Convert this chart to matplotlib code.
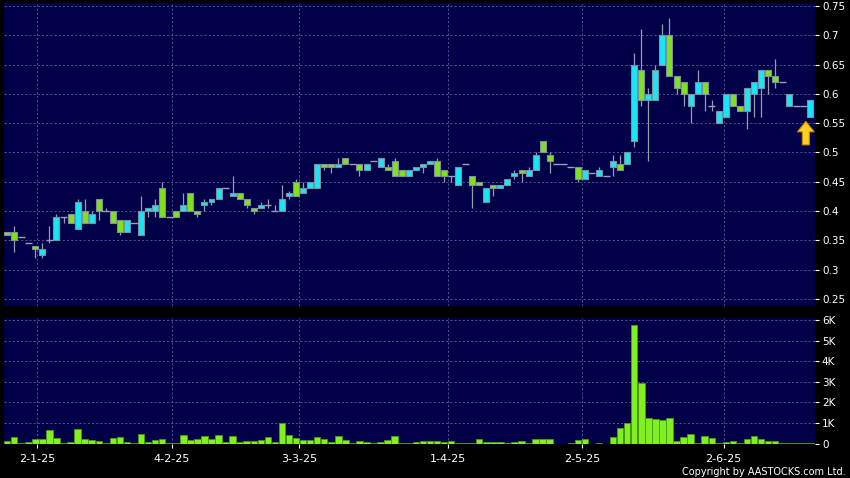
import matplotlib
matplotlib.use("Agg")
import matplotlib.pyplot as plt
import numpy as np

# daily candles (HKD)
opens = [.365, .365, .355, .345, .34, .325, .35, .35, .39, .395,
         .37, .40, .38, .42, .40, .40, .385, .365, .38, .36,
         .40, .40, .44, .39, .40, .40, .43, .40, .41, .415,
         .42, .44, .425, .43, .42, .405, .405, .41, .40, .40,
         .425, .45, .43, .44, .44, .48, .48, .475, .49, .48,
         .48, .47, .485, .475, .475, .485, .47, .46, .47, .475,
         .48, .485, .47, .46, .445, .48, .46, .45, .415, .445,
         .44, .445, .46, .47, .46, .47, .52, .495, .48, .48,
         .475, .475, .455, .465, .46, .46, .475, .48, .48, .52,
         .64, .59, .59, .65, .70, .63, .62, .58, .60, .62,
         .58, .55, .56, .60, .58, .57, .60, .61, .64, .63,
         .62, .58, .58, .58, .56]
closes = [.36, .35, .355, .345, .335, .335, .35, .39, .39, .38,
          .415, .38, .395, .40, .40, .38, .365, .385, .38, .40,
          .405, .41, .39, .39, .39, .41, .40, .395, .415, .42,
          .44, .44, .43, .42, .41, .40, .41, .41, .40, .42,
          .43, .425, .44, .45, .48, .475, .475, .48, .48, .48,
          .47, .48, .485, .49, .47, .46, .46, .47, .475, .48,
          .485, .46, .46, .46, .475, .48, .445, .445, .44, .44,
          .445, .455, .465, .465, .47, .495, .50, .485, .48, .48,
          .475, .455, .47, .465, .47, .46, .485, .47, .50, .65,
          .59, .60, .64, .70, .63, .61, .60, .60, .62, .60,
          .58, .57, .60, .58, .57, .61, .62, .64, .63, .62,
          .62, .60, .58, .58, .59]
highs = [.365, .375, .355, .345, .34, .345, .375, .395, .39, .395,
         .42, .42, .40, .42, .405, .40, .385, .385, .38, .425,
         .405, .42, .45, .39, .40, .43, .43, .40, .42, .42,
         .44, .44, .46, .43, .42, .405, .415, .42, .41, .445,
         .435, .455, .45, .45, .48, .48, .48, .49, .49, .48,
         .48, .48, .485, .49, .48, .49, .47, .47, .475, .48,
         .485, .49, .47, .46, .475, .48, .46, .45, .44, .445,
         .445, .455, .47, .47, .475, .50, .52, .50, .48, .48,
         .475, .475, .47, .465, .475, .46, .495, .495, .50, .67,
         .71, .61, .65, .72, .73, .63, .62, .60, .64, .62,
         .59, .57, .60, .60, .58, .61, .62, .64, .64, .66,
         .62, .60, .58, .58, .59]
lows = [.36, .33, .355, .345, .32, .32, .345, .35, .38, .38,
        .37, .38, .38, .385, .40, .38, .36, .365, .38, .36,
        .39, .39, .39, .39, .39, .40, .40, .39, .40, .41,
        .42, .44, .425, .42, .405, .395, .405, .405, .40, .40,
        .42, .425, .43, .44, .44, .47, .465, .475, .48, .48,
        .46, .47, .485, .475, .47, .46, .46, .46, .47, .465,
        .48, .46, .45, .45, .445, .48, .405, .445, .415, .425,
        .44, .445, .455, .45, .46, .47, .50, .465, .48, .48,
        .475, .45, .455, .465, .46, .46, .46, .47, .48, .51,
        .58, .485, .59, .65, .63, .60, .58, .55, .60, .57,
        .57, .55, .56, .58, .57, .54, .56, .56, .60, .61,
        .62, .58, .58, .58, .56]
# volume in thousands of shares
volume_k = [.15, .30, .03, .06, .20, .23, .68, .28, .03, .08,
            .73, .20, .16, .13, .05, .26, .32, .06, .02, .47,
            .10, .16, .21, .02, .05, .40, .16, .23, .39, .23,
            .40, .06, .37, .08, .15, .11, .16, .32, .06, 1.02,
            .40, .26, .18, .16, .30, .20, .06, .36, .16, .01,
            .11, .06, .05, .06, .18, .36, .03, .03, .06, .11,
            .11, .11, .08, .15, .05, .02, .02, .21, .08, .06,
            .06, .02, .06, .15, .01, .20, .20, .20, 0, 0,
            .01, .18, .20, 0, .04, 0, .30, .75, 1.02, 5.74,
            2.92, 1.23, 1.18, 1.15, 1.23, .15, .32, .49, .03, .36,
            .29, .01, .10, .15, .02, .21, .39, .21, .11, .11,
            .05, .01, .05, .01, .01]

date_labels = ["2-1-25", "4-2-25", "3-3-25", "1-4-25", "2-5-25", "2-6-25"]
price_ticks = [0.25, 0.3, 0.35, 0.4, 0.45, 0.5, 0.55, 0.6, 0.65, 0.7, 0.75]
price_tick_labels = ["0.25", "0.3", "0.35", "0.4", "0.45", "0.5",
                     "0.55", "0.6", "0.65", "0.7", "0.75"]
vol_ticks = [0, 1, 2, 3, 4, 5, 6]
vol_tick_labels = ["0", "1K", "2K", "3K", "4K", "5K", "6K"]

# where the date labels sit (in trading-day index units)
date_pos = [4.3, 23.4, 41.4, 62.6, 81.6, 101.7]

BG = "#000048"
UP = "#19E6F5"
DOWN = "#7FE21C"
GRID = "#5f5f9a"

o = np.array(opens)
c = np.array(closes)
h = np.array(highs)
l = np.array(lows)
x = np.arange(len(o))

fig = plt.figure(figsize=(8.5, 4.78), dpi=100, facecolor="black")
ax = fig.add_axes([0.0047, 0.3598, 0.9541, 0.6339], facecolor=BG)
axv = fig.add_axes([0.0047, 0.0711, 0.9541, 0.2636], facecolor=BG)

for a in (ax, axv):
    for s in a.spines.values():
        s.set_visible(False)
    a.set_xlim(-0.45, len(o) - 0.35)
    for p in date_pos:
        a.axvline(p, color=GRID, lw=0.6, ls=(0, (2.5, 2.5)), zorder=0)

# price panel
for p in price_ticks:
    ax.axhline(p, color=GRID, lw=0.6, ls=(0, (2.5, 2.5)), zorder=0)

ax.vlines(x, l, h, color="#9a9aaa", lw=0.9, zorder=1)
up = c > o
down = c < o
flat = c == o
ax.bar(x[up], (c - o)[up], bottom=o[up], width=0.85, color=UP,
       edgecolor="#7f8fa0", linewidth=0.8, zorder=2)
ax.bar(x[down], (o - c)[down], bottom=c[down], width=0.85, color=DOWN,
       edgecolor="#7f8fa0", linewidth=0.8, zorder=2)
ax.hlines(c[flat], x[flat] - 0.5, x[flat] + 0.5, color="#a0a0b4", lw=1.0, zorder=2)

# arrow under the latest candle
tip = l[-1] - 0.007
ax.annotate("", xy=(x[-1] - 0.65, tip), xytext=(x[-1] - 0.65, tip - 0.04),
            arrowprops=dict(facecolor="#FFD21E", edgecolor="#D08A00", lw=0.8,
                            width=5, headwidth=12, headlength=7.5), zorder=5)

ax.set_ylim(0.238, 0.755)
ax.yaxis.tick_right()
ax.set_yticks(price_ticks)
ax.set_yticklabels(price_tick_labels)
ax.set_xticks([])
ax.tick_params(axis="y", colors="white", labelsize=7.5, length=3, pad=2, width=0.8)

# volume panel
for v in vol_ticks[1:]:
    axv.axhline(v, color=GRID, lw=0.6, ls=(0, (2.5, 2.5)), zorder=0)
axv.bar(x, volume_k, width=0.92, color="#80F020", edgecolor="#4c9a12",
        linewidth=0.6, zorder=2)
axv.set_ylim(-0.02, 6.1)
axv.yaxis.tick_right()
axv.set_yticks(vol_ticks)
axv.set_yticklabels(vol_tick_labels)
axv.set_xticks(date_pos)
axv.set_xticklabels(date_labels)
axv.tick_params(axis="y", colors="white", labelsize=7.5, length=3, pad=2, width=0.8)
axv.tick_params(axis="x", colors="white", labelsize=8, length=3, pad=4, width=0.8)

fig.text(0.995, 0.003, "Copyright by AASTOCKS.com Ltd.", color="white",
         fontsize=7, ha="right", va="bottom")

fig.savefig("out.png", dpi=100, facecolor="black")
